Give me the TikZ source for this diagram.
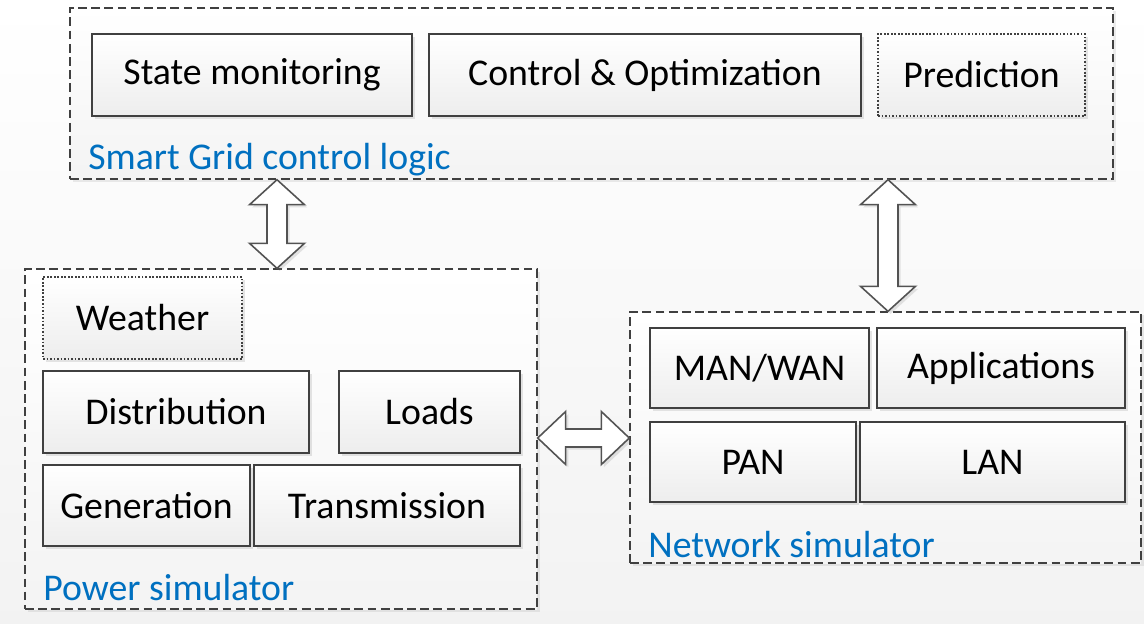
\documentclass[tikz,border=0pt]{standalone}
\usepackage{fontspec}
\setmainfont{Carlito}
\usetikzlibrary{positioning,calc,fit,shadows,backgrounds}
\definecolor{labelblue}{RGB}{0,112,192}
\definecolor{edgegray}{RGB}{64,64,64}

\tikzset{
  box/.style={draw=edgegray, line width=0.9pt, top color=white, bottom color=gray!14,
    inner sep=0pt, drop shadow={shadow xshift=1.5pt, shadow yshift=-1.5pt, opacity=0.2}},
  dotbox/.style={box, dash pattern=on 1pt off 1pt},
  boxtext/.style={font=\fontsize{21.5}{26}\selectfont, inner sep=0pt},
  frame/.style={draw=edgegray, line width=0.8pt, dash pattern=on 5pt off 2.5pt,
    top color=white, bottom color=gray!9, inner sep=0pt,
    drop shadow={shadow xshift=1.5pt, shadow yshift=-1.5pt, opacity=0.15}},
  grouplabel/.style={anchor=base west, text=labelblue, inner sep=0pt,
    font=\fontsize{21.5}{26}\selectfont},
  hollow/.style={draw=gray!65!black, line width=0.9pt, fill=white,
    drop shadow={shadow xshift=1.5pt, shadow yshift=-1.5pt, opacity=0.2}}
}

% vertical and horizontal double arrows between two points
\newcommand{\vdarrow}[2]{%
  \draw[hollow] (#1) -- ++(27.5,25) -- ++(-17.5,0) -- ($(#2)+(10,-25)$) -- ++(17.5,0)
    -- (#2) -- ++(-27.5,-25) -- ++(17.5,0) -- ($(#1)+(-10,25)$) -- ++(-17.5,0) -- cycle;}
\newcommand{\hdarrow}[2]{%
  \draw[hollow] (#1) -- ++(28,-26.5) -- ++(0,17.5) -- ($(#2)+(-28,-9)$) -- ++(0,-17.5)
    -- (#2) -- ++(-28,26.5) -- ++(0,-17.5) -- ($(#1)+(28,9)$) -- ++(0,17.5) -- cycle;}

\begin{document}
\begin{tikzpicture}[x=0.02cm, y=-0.02cm]
    % Background
    \useasboundingbox[top color=white, bottom color=gray!10] (0,0) rectangle (1144,623);

    % Smart Grid control logic
    \node[frame, fit={(70,8) (1113,179)}] (grid) {};
    \node[box, fit={(92,34) (412,116)}, label={[boxtext]center:State monitoring}] (state) {};
    \node[box, fit={(429,34) (861,116)}, label={[boxtext]center:Control \& Optimization}] (control) {};
    \node[dotbox, fit={(878,34) (1085,116)}, label={[boxtext]center:Prediction}] (predict) {};
    \node[grouplabel] (gridlabel) at (88,169) {Smart Grid control logic};

    % Power simulator
    \node[frame, fit={(25,269) (537,609)}] (power) {};
    \node[dotbox, fit={(43,277) (242,359)}, label={[boxtext]center:Weather}] (weather) {};
    \node[box, fit={(43,371) (309,453)}, label={[boxtext]center:Distribution}] (distrib) {};
    \node[box, fit={(339,371) (520,453)}, label={[boxtext]center:Loads}] (loads) {};
    \node[box, fit={(43,465) (250,546)}, label={[boxtext]center:Generation}] (gener) {};
    \node[box, fit={(254,465) (520,546)}, label={[boxtext]center:Transmission}] (trans) {};
    \node[grouplabel] (powerlabel) at (43,600) {Power simulator};

    % Network simulator
    \node[frame, fit={(630,312) (1141,563)}] (network) {};
    \node[box, fit={(650,328) (869,408)}, label={[boxtext]center:MAN/WAN}] (manwan) {};
    \node[box, fit={(877,328) (1125,408)}, label={[boxtext]center:Applications}] (apps) {};
    \node[box, fit={(650,422) (856,502)}, label={[boxtext]center:PAN}] (pan) {};
    \node[box, fit={(860,422) (1125,502)}, label={[boxtext]center:LAN}] (lan) {};
    \node[grouplabel] (netlabel) at (648,557) {Network simulator};

    % Arrows
    \coordinate (colA) at (277,0);
    \coordinate (colB) at (888,0);
    \coordinate (rowC) at (0,438);
    \vdarrow{grid.south -| colA}{power.north -| colA}
    \vdarrow{grid.south -| colB}{network.north -| colB}
    \hdarrow{power.east |- rowC}{network.west |- rowC}
\end{tikzpicture}
\end{document}
